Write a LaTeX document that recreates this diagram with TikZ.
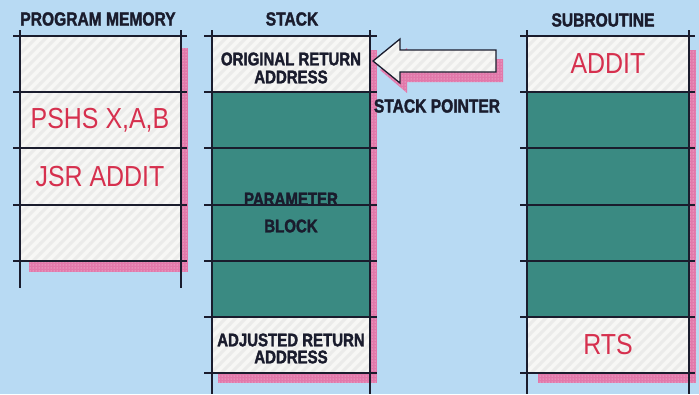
\documentclass[tikz,border=0pt]{standalone}
\usepackage{fontspec}
\setmainfont{Liberation Sans}
\newfontfamily\hdrfont[FakeStretch=0.82, BoldFeatures={FakeBold=1.8}]{Liberation Sans}
\newfontfamily\redfont[FakeStretch=0.86]{Liberation Sans}
\usetikzlibrary{patterns}
\pgfdeclarepatternformonly{widestripes}{\pgfpoint{-1pt}{-1pt}}{\pgfpoint{11pt}{11pt}}{\pgfpoint{10pt}{10pt}}{
  \pgfsetlinewidth{3pt}
  \pgfpathmoveto{\pgfpoint{-1pt}{-1pt}}\pgfpathlineto{\pgfpoint{11pt}{11pt}}
  \pgfusepath{stroke}
}
\definecolor{bgblue}{RGB}{184,218,243}
\definecolor{tealc}{RGB}{58,138,130}
\definecolor{cellw}{RGB}{247,247,245}
\definecolor{stripec}{RGB}{235,235,234}
\definecolor{shadowc}{RGB}{226,120,170}
\definecolor{inkc}{RGB}{26,28,45}
\definecolor{redc}{RGB}{214,48,78}
\tikzset{
  rule/.style={draw=inkc, line width=1.5pt},
  shadowbox/.style={fill=shadowc},
  shadowdots/.style={pattern=dots, pattern color=white!75!shadowc},
  whitecell/.style={fill=cellw, postaction={pattern=widestripes, pattern color=stripec}},
  tealcell/.style={fill=tealc},
  hdr/.style={text=inkc, font=\hdrfont\bfseries\fontsize{19}{20}\selectfont, inner sep=0},
  lbl/.style={text=inkc, font=\hdrfont\bfseries\fontsize{18.3}{19}\selectfont, inner sep=0, align=center},
  redlbl/.style={text=redc, font=\redfont\fontsize{29}{30}\selectfont, inner sep=0},
  ptrline/.style={draw=inkc, line width=1.3pt, line join=miter},
}
\begin{document}
\begin{tikzpicture}[x=1pt,y=-1pt]
\fill[bgblue] (0,0) rectangle (699,394);
\useasboundingbox (0,0) rectangle (699,394);

% shadows
\fill[shadowbox] (29,48) rectangle (188,272);
\fill[shadowdots] (29,48) rectangle (188,272);
\fill[shadowbox] (218,50) rectangle (377,383);
\fill[shadowdots] (218,50) rectangle (377,383);
\fill[shadowbox] (538,50) rectangle (696,383);
\fill[shadowdots] (538,50) rectangle (696,383);

% program memory cells
\fill[whitecell] (20,36) rectangle (181,261);
% stack cells
\fill[whitecell] (212,36) rectangle (370,92);
\fill[tealcell] (212,92) rectangle (370,317);
\fill[whitecell] (212,317) rectangle (370,373);
% subroutine cells
\fill[whitecell] (527,36) rectangle (689,92);
\fill[tealcell] (527,92) rectangle (689,317);
\fill[whitecell] (527,317) rectangle (689,373);

% rules: program memory
\draw[rule] (20,30) -- (20,288);
\draw[rule] (181,30) -- (181,288);
\foreach \y in {36,92,148,205,261} \draw[rule] (13,\y) -- (187,\y);
% rules: stack
\draw[rule] (212,30) -- (212,394);
\draw[rule] (370,30) -- (370,394);
\foreach \y in {36,92,148,205,261,317,373} \draw[rule] (204,\y) -- (377,\y);
% rules: subroutine
\draw[rule] (527,30) -- (527,394);
\draw[rule] (689,30) -- (689,394);
\foreach \y in {36,92,148,205,261,317,373} \draw[rule] (520,\y) -- (695,\y);

% headers
\node[hdr] (hpm) at (98,19) {PROGRAM MEMORY};
\node[hdr] (hst) at (292,19) {STACK};
\node[hdr] (hsr) at (603,20) {SUBROUTINE};

% program memory labels
\node[redlbl] (pshs) at (100,120) {PSHS X,A,B};
\node[redlbl] (jsr) at (100,177) {JSR ADDIT};

% stack labels
\node[lbl] (orig1) at (291,59) {ORIGINAL RETURN};
\node[lbl] (orig2) at (291,77) {ADDRESS};
\node[lbl] (par1) at (291,199) {PARAMETER};
\node[lbl] (par2) at (291,226) {BLOCK};
\node[lbl] (adj1) at (291,340) {ADJUSTED RETURN};
\node[lbl] (adj2) at (291,357) {ADDRESS};

% subroutine labels
\node[redlbl] (addit) at (608,64) {ADDIT};
\node[redlbl] (rts) at (608,345) {RTS};

% stack pointer arrow
\fill[shadowbox] (380,70) -- (407,48) -- (407,59) -- (503,59) -- (503,82) -- (407,82) -- (407,93) -- cycle;
\fill[shadowdots] (380,70) -- (407,48) -- (407,59) -- (503,59) -- (503,82) -- (407,82) -- (407,93) -- cycle;
\fill[whitecell] (373,61) -- (400,39) -- (400,50) -- (496,50) -- (496,72) -- (400,72) -- (400,83) -- cycle;
\draw[ptrline] (373,61) -- (400,39) -- (400,50) -- (496,50) -- (496,72) -- (400,72) -- (400,83) -- cycle;
\node[hdr] (sp) at (437,106) {STACK POINTER};
\end{tikzpicture}
\end{document}
